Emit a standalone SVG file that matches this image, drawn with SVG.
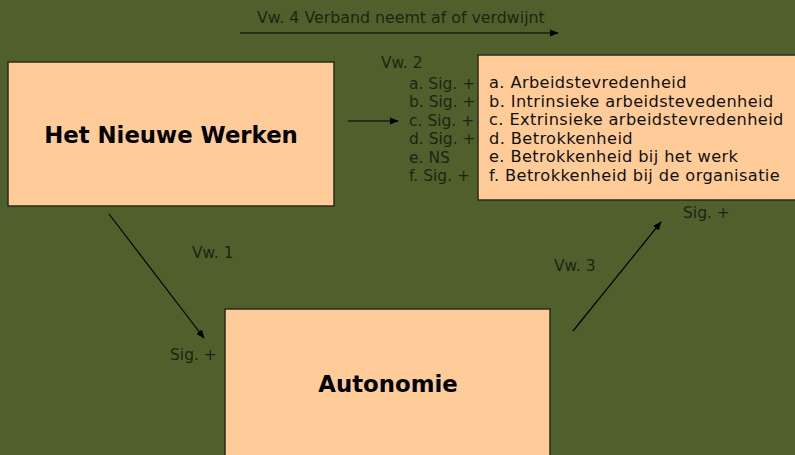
<svg xmlns="http://www.w3.org/2000/svg" width="795" height="455" viewBox="0 0 795 455">
  <style>
    .node { fill: #FFCC99; stroke: #2a2a1a; stroke-width: 1.5; }
    .title { font-family: "DejaVu Sans", Verdana, sans-serif; font-weight: bold; font-size: 22.8px; fill: #000; text-anchor: middle; }
    .item { font-family: "DejaVu Sans", Verdana, sans-serif; font-size: 16.2px; letter-spacing: 0.4px; fill: #111; }
    .lbl { font-family: "DejaVu Sans", Verdana, sans-serif; font-size: 15.5px; fill: #1e2412; }
    .conn { stroke: #000; stroke-width: 1.2; fill: none; marker-end: url(#arrow); }
  </style>
  <defs>
    <marker id="arrow" viewBox="0 0 10 10" refX="9" refY="5" markerWidth="9" markerHeight="9" markerUnits="userSpaceOnUse" orient="auto">
      <path d="M0,1 L10,5 L0,9 z" fill="#000"/>
    </marker>
  </defs>

  <rect width="795" height="455" fill="#4F602D"/>

  <g id="het-nieuwe-werken">
    <rect class="node" x="8" y="62" width="326" height="144"/>
    <text class="title" x="171" y="143">Het Nieuwe Werken</text>
  </g>

  <g id="uitkomsten">
    <rect class="node" x="478" y="55" width="330" height="145"/>
    <text class="item" x="489" y="88">a. Arbeidstevredenheid</text>
    <text class="item" x="489" y="106.6">b. Intrinsieke arbeidstevedenheid</text>
    <text class="item" x="489" y="125.2">c. Extrinsieke arbeidstevredenheid</text>
    <text class="item" x="489" y="143.8">d. Betrokkenheid</text>
    <text class="item" x="489" y="162.4">e. Betrokkenheid bij het werk</text>
    <text class="item" x="489" y="181">f. Betrokkenheid bij de organisatie</text>
  </g>

  <g id="autonomie">
    <rect class="node" x="225" y="309" width="325" height="160"/>
    <text class="title" x="388" y="392">Autonomie</text>
  </g>

  <g id="connectors">
    <line class="conn" x1="240" y1="33" x2="558" y2="33"/>
    <line class="conn" x1="348" y1="121" x2="398" y2="121"/>
    <line class="conn" x1="109" y1="214" x2="204" y2="338"/>
    <line class="conn" x1="573" y1="331" x2="661" y2="222"/>
  </g>

  <g id="labels">
    <text class="lbl" x="257" y="23" style="font-size:15.8px">Vw. 4 Verband neemt af of verdwijnt</text>
    <text class="lbl" x="381" y="68">Vw. 2</text>
    <text class="lbl" x="409" y="89">a. Sig. +</text>
    <text class="lbl" x="409" y="107.4">b. Sig. +</text>
    <text class="lbl" x="409" y="125.8">c. Sig. +</text>
    <text class="lbl" x="409" y="144.2">d. Sig. +</text>
    <text class="lbl" x="409" y="162.6">e. NS</text>
    <text class="lbl" x="409" y="181">f. Sig. +</text>
    <text class="lbl" x="192" y="258">Vw. 1</text>
    <text class="lbl" x="170" y="360">Sig. +</text>
    <text class="lbl" x="554" y="271">Vw. 3</text>
    <text class="lbl" x="683" y="218">Sig. +</text>
  </g>
</svg>
